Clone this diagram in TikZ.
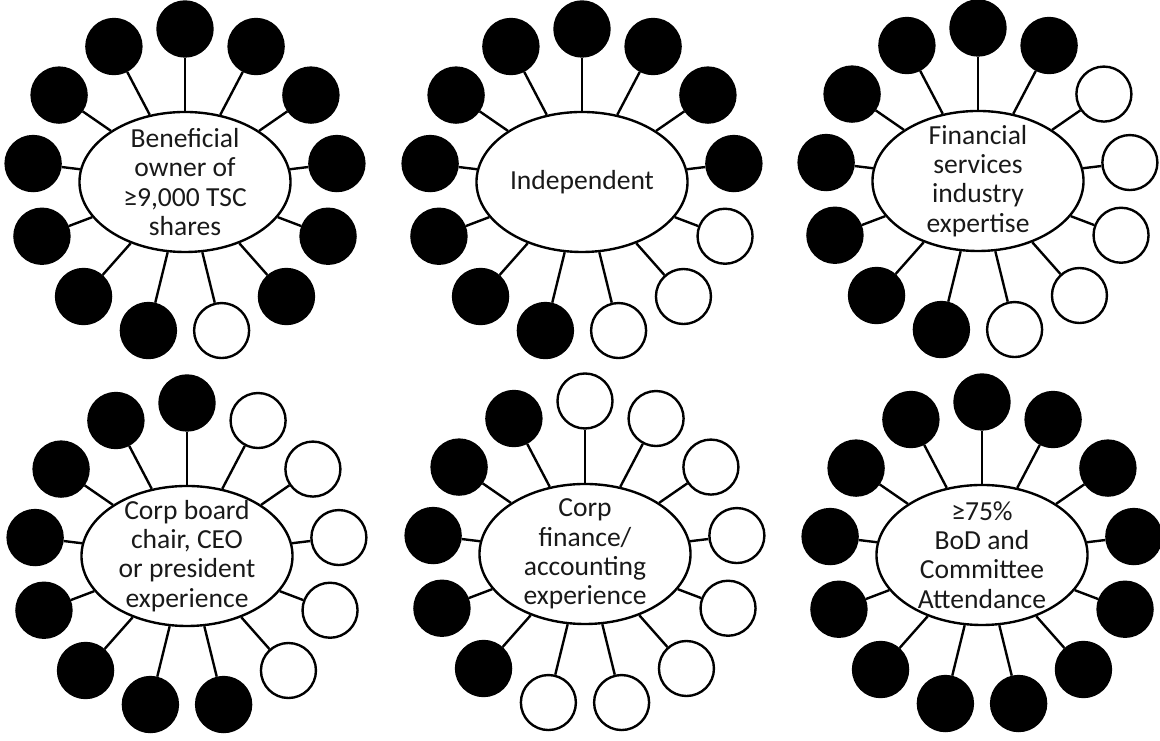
\documentclass[tikz,border=0pt]{standalone}
\usepackage{fontspec}
\setmainfont{Carlito}
\usetikzlibrary{shapes.geometric,calc}

\begin{document}
\begin{tikzpicture}[x=0.025cm, y=0.025cm,
    hub/.style={ellipse, draw, line width=1.7pt, minimum width=5.275cm, minimum height=3.5cm, inner sep=0pt},
    dot/.style={circle, draw, line width=1.7pt, minimum size=1.375cm, inner sep=0pt},
    dot b/.style={fill=black},
    dot w/.style={fill=white},
    txt/.style={align=center, inner sep=0pt, text=black!90, font=\fontsize{19.6}{20.8}\selectfont}]
    \useasboundingbox (0,0) rectangle (1160,741);

    % one hub per criterion, 13 directors round it (from the top, anticlockwise)
    \foreach \id/\cx/\cy/\txt/\marks in {
        own/185/559/{Beneficial\\owner of\\≥9,000 TSC\\shares}/{b,b,b,b,b,b,b,w,b,b,b,b,b},
        ind/582/559/{Independent}/{b,b,b,b,b,b,b,w,w,w,b,b,b},
        fin/978/560/{Financial\\services\\industry\\expertise}/{b,b,b,b,b,b,b,w,w,w,w,w,b},
        ceo/187/185/{Corp board\\chair, CEO\\or president\\experience}/{b,b,b,b,b,b,b,b,w,w,w,w,w},
        acc/585/187/{Corp\\finance/\\accounting\\experience}/{w,b,b,b,b,b,w,w,w,w,w,w,w},
        att/982/186/{≥75\%\\BoD and\\Committee\\Attendance}/{b,b,b,b,b,b,b,b,b,b,b,b,b}}
    {
        \node (\id) [hub] at (\cx,\cy) {};
        \node (\id-txt) [txt] at (\id) {\txt};
        \foreach \m [count=\k from 0] in \marks {
            \node (\id-\k) [dot, dot \m] at ($(\id)+(90+\k*27.6923:153)$) {};
            \draw [line width=1.7pt] (\id) -- (\id-\k);
        }
    }
\end{tikzpicture}
\end{document}
